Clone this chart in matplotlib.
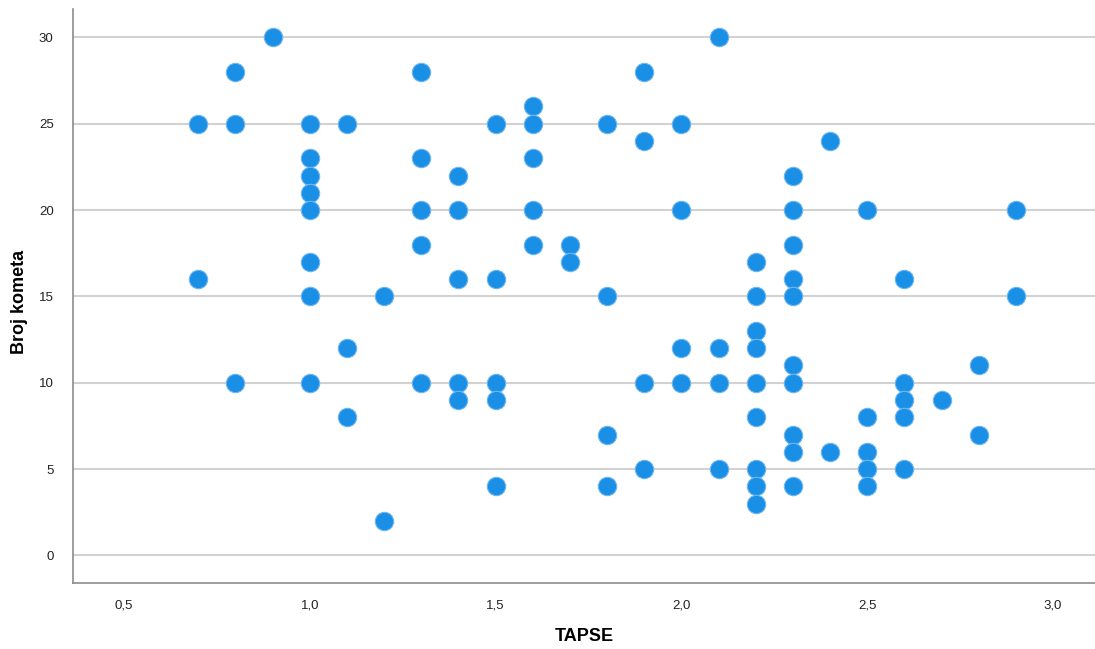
import matplotlib
matplotlib.use("Agg")
import matplotlib.pyplot as plt
from matplotlib.ticker import FuncFormatter, FixedLocator

plt.rcParams['font.family'] = ['Liberation Sans', 'DejaVu Sans']

# TAPSE values and the matching comet counts, grouped by TAPSE
tapse_levels = [0.7, 0.8, 0.9, 1.0, 1.1, 1.2, 1.3, 1.4, 1.5, 1.6, 1.7, 1.8,
                1.9, 2.0, 2.1, 2.2, 2.3, 2.4, 2.5, 2.6, 2.7, 2.8, 2.9]
comet_counts = [
    [25, 16],
    [28, 25, 10],
    [30],
    [25, 23, 22, 21, 20, 17, 15, 10],
    [25, 12, 8],
    [15, 2],
    [28, 23, 20, 18, 10],
    [22, 20, 16, 10, 9],
    [25, 16, 10, 9, 4],
    [26, 25, 23, 20, 18],
    [18, 17],
    [25, 15, 7, 4],
    [28, 24, 10, 5],
    [25, 20, 12, 10],
    [30, 12, 10, 5],
    [17, 15, 13, 12, 10, 8, 5, 4, 3],
    [22, 20, 18, 16, 15, 11, 10, 7, 6, 4],
    [24, 6],
    [20, 8, 6, 5, 4],
    [16, 10, 9, 8, 5],
    [9],
    [11, 7],
    [20, 15],
]
x_ticks = [0.5, 1.0, 1.5, 2.0, 2.5, 3.0]
y_ticks = [0, 5, 10, 15, 20, 25, 30]

tapse = [t for t, ys in zip(tapse_levels, comet_counts) for _ in ys]
comets = [y for ys in comet_counts for y in ys]

fig = plt.figure(figsize=(10.95, 6.49), dpi=100)
ax = fig.add_axes([0.0667, 0.1017, 0.9333, 0.8843])

ax.set_xlim(0.363, 3.113)
ax.set_ylim(-1.6, 31.64)

for yt in y_ticks:
    ax.axhline(yt, color='#d2d2d2', linewidth=1.5, zorder=1)

ax.scatter(tapse, comets, s=175, color='#1a8fe6', edgecolors='#6fb6f0',
           linewidths=0.8, zorder=3)

ax.xaxis.set_major_locator(FixedLocator(x_ticks))
ax.yaxis.set_major_locator(FixedLocator(y_ticks))
ax.xaxis.set_major_formatter(FuncFormatter(lambda v, p: f"{v:.1f}".replace('.', ',')))
ax.yaxis.set_major_formatter(FuncFormatter(lambda v, p: f"{int(v)}"))
ax.tick_params(axis='both', length=0, labelsize=9.5, colors='#222222')
ax.tick_params(axis='x', pad=12)
ax.tick_params(axis='y', pad=14)

for side in ['top', 'right']:
    ax.spines[side].set_visible(False)
for side in ['left', 'bottom']:
    ax.spines[side].set_color('#8c8c8c')
    ax.spines[side].set_linewidth(1.2)

ax.set_xlabel('TAPSE', fontsize=13, fontweight='bold', labelpad=12)
ax.set_ylabel('Broj kometa', fontsize=13, fontweight='bold')
ax.yaxis.set_label_coords(-0.044, 0.49)

fig.savefig('out.png', dpi=100)
